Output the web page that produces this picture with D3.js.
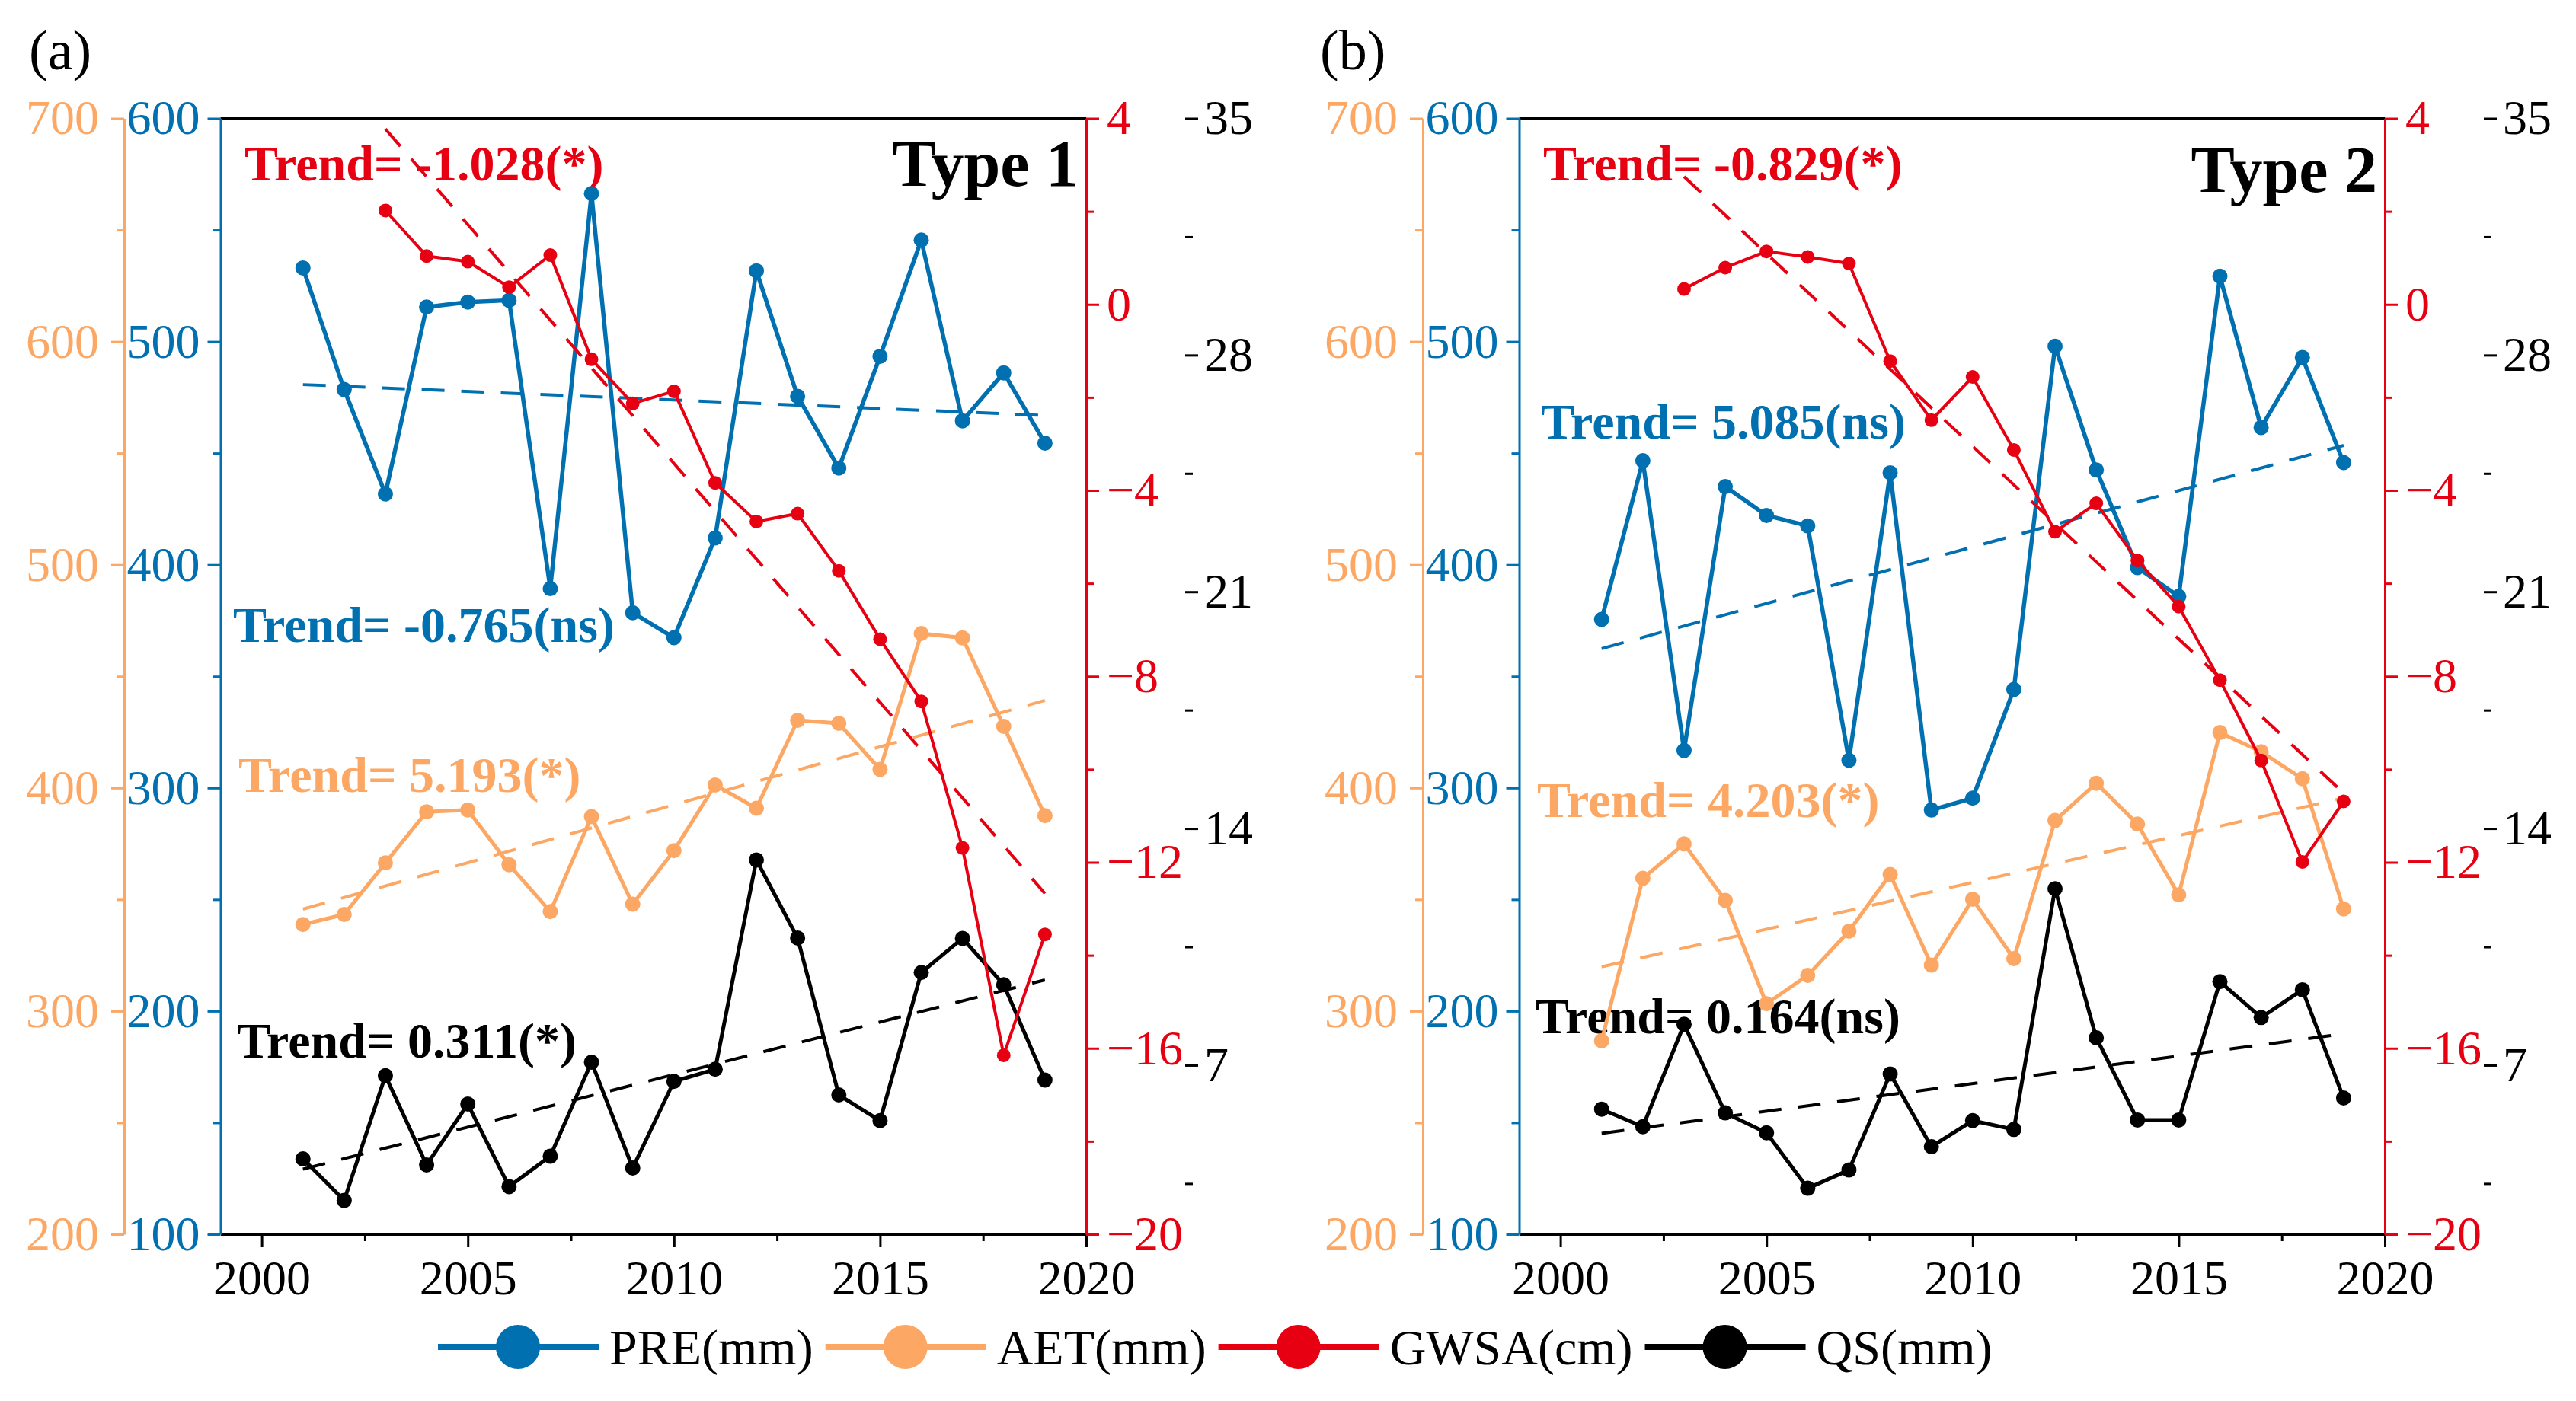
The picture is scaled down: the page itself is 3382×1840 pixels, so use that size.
<!DOCTYPE html>
<html><head><meta charset="utf-8">
<script src="https://cdn.jsdelivr.net/npm/d3@7"></script>
<style>body{margin:0;background:#fff} svg text{font-family:'Liberation Serif','Times New Roman',serif;}</style></head>
<body>
<svg id="c" width="3382" height="1840" font-family="Liberation Serif"></svg>
<script>
// ---------------- DATA ----------------
const years = [2001,2002,2003,2004,2005,2006,2007,2008,2009,2010,2011,2012,2013,2014,2015,2016,2017,2018,2019];
const gwsaYears = [2003,2004,2005,2006,2007,2008,2009,2010,2011,2012,2013,2014,2015,2016,2017,2018,2019];

// Panel (a) Type 1
const preA  = [533,478.5,431.7,515.5,517.7,518.5,389.3,566.3,378.5,367.3,412,531.7,475.5,443.3,493.4,545.5,464.5,486,454.5];
const aetA  = [338.8,343.3,366.4,389.3,390.1,365.6,344.6,387.1,347.9,371.9,401.3,390.9,430.3,428.9,408.3,469.2,467.2,427.6,387.6];
const gwsaA = [2.02,1.04,0.92,0.37,1.06,-1.18,-2.13,-1.87,-3.84,-4.67,-4.5,-5.73,-7.2,-8.54,-11.69,-16.15,-13.55];
const qsA   = [4.23,3.0,6.69,4.05,5.85,3.41,4.31,7.09,3.96,6.52,6.88,13.07,10.76,6.12,5.36,9.74,10.75,9.38,6.56];

// Panel (b) Type 2
const preB  = [375.5,446.6,316.8,435,422.1,417.4,312.4,441.2,290.1,295.4,344.1,497.9,442.5,398.7,385.8,529.3,461.5,492.9,445.8];
const aetB  = [286.7,359.5,374.9,349.6,303.3,316,335.8,361.2,320.6,350.1,323.5,385.4,402.1,383.8,352.1,424.8,416.2,404.1,345.8];
const gwsaB = [0.33,0.79,1.14,1.02,0.88,-1.22,-2.49,-1.56,-3.13,-4.89,-4.28,-5.51,-6.5,-8.08,-9.81,-11.99,-10.69];
const qsB   = [5.7,5.18,8.21,5.59,5.0,3.36,3.9,6.74,4.59,5.36,5.1,12.22,7.81,5.38,5.38,9.47,8.41,9.23,6.03];

// Axis ticks
const xTicks = [2000,2005,2010,2015,2020];
const xMinor = [2002.5,2007.5,2012.5,2017.5];
const preTicks = [100,200,300,400,500,600];
const preMinor = [150,250,350,450,550];
const aetTicks = [200,300,400,500,600,700];
const aetMinor = [250,350,450,550,650];
const gwsaTicks = [-20,-16,-12,-8,-4,0,4];
const gwsaMinor = [-18,-14,-10,-6,-2,2];
const qsTicks = [7,14,21,28,35];
const qsMinor = [3.5,10.5,17.5,24.5,31.5];

const seriesNames = ["PRE(mm)","AET(mm)","GWSA(cm)","QS(mm)"];
const trendTextA = ["Trend= -0.765(ns)","Trend= 5.193(*)","Trend= -1.028(*)","Trend= 0.311(*)"];
const trendTextB = ["Trend= 5.085(ns)","Trend= 4.203(*)","Trend= -0.829(*)","Trend= 0.164(ns)"];

// ---------------- STYLE ----------------
const COL = {pre:"#0070B0", aet:"#FCA864", gwsa:"#E60012", qs:"#000000"};
const FONT = "'Liberation Serif','Times New Roman',serif";
const svg = d3.select("#c");
svg.append("rect").attr("width",3382).attr("height",1840).attr("fill","#fff");

function regress(xs, ys){
  const n = xs.length, mx = d3.mean(xs), my = d3.mean(ys);
  let sxy=0, sxx=0;
  for(let i=0;i<n;i++){ sxy += (xs[i]-mx)*(ys[i]-my); sxx += (xs[i]-mx)**2; }
  const b = sxy/sxx; return x => my + b*(x-mx);
}

function styleAxis(g, color, fs, noDomain){
  g.attr("font-family", FONT).attr("font-size", fs);
  if(noDomain) g.select("path.domain").remove();
  else g.select("path.domain").attr("stroke", color).attr("stroke-width", 3);
  g.selectAll(".tick line").attr("stroke", color).attr("stroke-width", 3);
  g.selectAll(".tick text").attr("fill", color).attr("font-family", FONT)
    .style("font-family", FONT).style("font-size", fs + "px");
}

function panel(dx, cfg){
  const x0 = 289.5 + dx, x1 = 1426 + dx, yT = 155.5, yB = 1621;
  const x = d3.scaleLinear().domain([1999, 2020]).range([x0, x1]);
  const yPre = d3.scaleLinear().domain([100, 600]).range([yB, yT]);
  const yAet = d3.scaleLinear().domain([200, 700]).range([yB, yT]);
  const yGw = d3.scaleLinear().domain([-20, 4]).range([yB, yT]);
  const yQs = d3.scaleLinear().domain([2, 35]).range([yB, yT]);
  const g = svg.append("g");
  const FS = 64;

  // top frame line
  g.append("line").attr("x1", x0).attr("x2", x1).attr("y1", yT).attr("y2", yT)
    .attr("stroke", "#000").attr("stroke-width", 3);

  // x axis
  const gx = g.append("g").attr("transform", `translate(0,${yB})`)
    .call(d3.axisBottom(x).tickValues(xTicks).tickFormat(d3.format("d")).tickSize(17).tickPadding(17).tickSizeOuter(0));
  styleAxis(gx, "#000", FS);
  const gxm = g.append("g").attr("transform", `translate(0,${yB})`)
    .call(d3.axisBottom(x).tickValues(xMinor).tickFormat("").tickSize(9));
  styleAxis(gxm, "#000", FS, true);

  // PRE axis (blue) on plot left
  const gp = g.append("g").attr("transform", `translate(${x0},0)`)
    .call(d3.axisLeft(yPre).tickValues(preTicks).tickSize(17).tickPadding(10).tickSizeOuter(0));
  styleAxis(gp, COL.pre, FS);
  const gpm = g.append("g").attr("transform", `translate(${x0},0)`)
    .call(d3.axisLeft(yPre).tickValues(preMinor).tickFormat("").tickSize(10));
  styleAxis(gpm, COL.pre, FS, true);

  // AET axis (orange) further left
  const xa = x0 - 126.5;
  const ga = g.append("g").attr("transform", `translate(${xa},0)`)
    .call(d3.axisLeft(yAet).tickValues(aetTicks).tickSize(17).tickPadding(16).tickSizeOuter(0));
  styleAxis(ga, COL.aet, FS);
  const gam = g.append("g").attr("transform", `translate(${xa},0)`)
    .call(d3.axisLeft(yAet).tickValues(aetMinor).tickFormat("").tickSize(10));
  styleAxis(gam, COL.aet, FS, true);

  // GWSA axis (red) on plot right
  const gg = g.append("g").attr("transform", `translate(${x1},0)`)
    .call(d3.axisRight(yGw).tickValues(gwsaTicks).tickSize(17).tickPadding(10).tickSizeOuter(0));
  styleAxis(gg, COL.gwsa, FS);
  const ggm = g.append("g").attr("transform", `translate(${x1},0)`)
    .call(d3.axisRight(yGw).tickValues(gwsaMinor).tickFormat("").tickSize(10));
  styleAxis(ggm, COL.gwsa, FS, true);

  // QS axis (black), no line
  const xq = x1 + 130;
  const gq = g.append("g").attr("transform", `translate(${xq},0)`)
    .call(d3.axisRight(yQs).tickValues(qsTicks).tickSize(17).tickPadding(8).tickSizeOuter(0));
  styleAxis(gq, "#000", FS, true);
  const gqm = g.append("g").attr("transform", `translate(${xq},0)`)
    .call(d3.axisRight(yQs).tickValues(qsMinor).tickFormat("").tickSize(10));
  styleAxis(gqm, "#000", FS, true);

  // panel label and type
  g.append("text").attr("x", dx + cfg.labelX).attr("y", 91).text(cfg.label)
    .style("font-family", FONT).style("font-size", "74px").attr("fill", "#000");
  g.append("text").attr("x", dx + 1416).attr("y", cfg.typeY).attr("text-anchor", "end").text(cfg.type)
    .style("font-family", FONT).style("font-size", "86px").style("font-weight", "bold").attr("fill", "#000");

  // trend annotations
  const cols = [COL.pre, COL.aet, COL.gwsa, COL.qs];
  cfg.notes.forEach((p, i) => {
    g.append("text").attr("x", dx + p[0]).attr("y", p[1]).text(cfg.trendText[i])
      .attr("fill", cols[i]).style("font-family", FONT).style("font-size", "66px").style("font-weight", "bold");
  });

  // series
  const series = [
    {ys: cfg.aet, xs: years, y: yAet, c: COL.aet, r: 10, w: 5},
    {ys: cfg.qs, xs: years, y: yQs, c: COL.qs, r: 10, w: 5},
    {ys: cfg.pre, xs: years, y: yPre, c: COL.pre, r: 10, w: 5.5},
    {ys: cfg.gwsa, xs: gwsaYears, y: yGw, c: COL.gwsa, r: 9, w: 4}
  ];
  series.forEach(s => {
    const pts = s.xs.map((yr, i) => [yr, s.ys[i]]);
    g.append("path").datum(pts)
      .attr("d", d3.line().x(d => x(d[0])).y(d => s.y(d[1])))
      .attr("fill", "none").attr("stroke", s.c).attr("stroke-width", s.w).attr("stroke-linejoin", "round");
    g.selectAll(null).data(pts).enter().append("circle")
      .attr("cx", d => x(d[0])).attr("cy", d => s.y(d[1])).attr("r", s.r).attr("fill", s.c);
    const f = regress(s.xs, s.ys);
    const a = s.xs[0], b = s.xs[s.xs.length - 1];
    g.append("line").attr("x1", x(a)).attr("y1", s.y(f(a))).attr("x2", x(b)).attr("y2", s.y(f(b)))
      .attr("stroke", s.c).attr("stroke-width", 4).attr("stroke-dasharray", "30,22");
  });
}

panel(0, {
  label: "(a)", labelX: 38, type: "Type 1", typeY: 244,
  pre: preA, aet: aetA, gwsa: gwsaA, qs: qsA, trendText: trendTextA,
  notes: [[306, 843], [313, 1040], [321, 237], [311, 1389]]
});
panel(1705, {
  label: "(b)", labelX: 28, type: "Type 2", typeY: 252,
  pre: preB, aet: aetB, gwsa: gwsaB, qs: qsB, trendText: trendTextB,
  notes: [[318, 576], [313, 1073], [321, 237], [311, 1357]]
});

// ---------------- LEGEND ----------------
const lg = svg.append("g");
const legCols = [COL.pre, COL.aet, COL.gwsa, COL.qs];
let lx = 575; const ly = 1769;
seriesNames.forEach((name, i) => {
  lg.append("line").attr("x1", lx).attr("x2", lx + 211).attr("y1", ly).attr("y2", ly)
    .attr("stroke", legCols[i]).attr("stroke-width", 8);
  lg.append("circle").attr("cx", lx + 105).attr("cy", ly).attr("r", 29).attr("fill", legCols[i]);
  const t = lg.append("text").attr("x", lx + 225).attr("y", ly).attr("dy", "0.35em").text(name)
    .attr("fill", "#000").style("font-family", FONT).style("font-size", "66px");
  lx += 225 + t.node().getComputedTextLength() + 16;
});
</script>
</body></html>
